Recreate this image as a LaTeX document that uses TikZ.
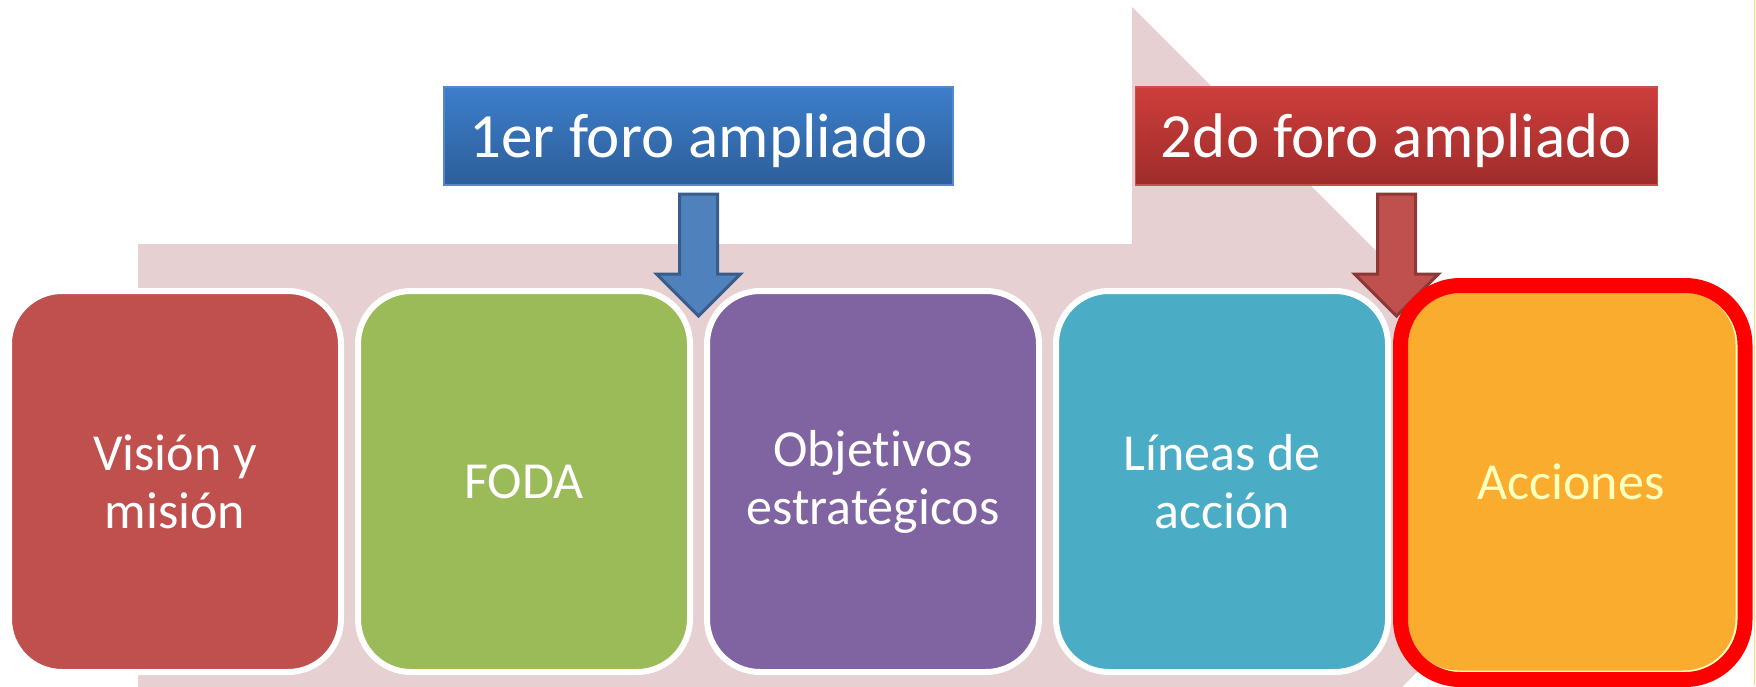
\documentclass[tikz,border=0pt]{standalone}
\usepackage{fontspec}
\setmainfont{Carlito}[Ligatures={NoCommon,NoContextual}]
\usepackage{tikz}
\usetikzlibrary{positioning, calc}

\definecolor{bgpink}{RGB}{230,208,209}
\definecolor{visred}{RGB}{192,80,77}
\definecolor{fodagreen}{RGB}{155,187,89}
\definecolor{objpurple}{RGB}{128,100,162}
\definecolor{lineteal}{RGB}{75,172,198}
\definecolor{accorange}{RGB}{249,172,46}
\definecolor{acctext}{RGB}{255,255,190}
\definecolor{blueup}{RGB}{61,126,202}
\definecolor{bluedown}{RGB}{45,94,154}
\definecolor{blueedge}{RGB}{84,136,204}
\definecolor{redup}{RGB}{205,62,59}
\definecolor{reddown}{RGB}{158,44,43}
\definecolor{rededge}{RGB}{200,80,78}
\definecolor{arrowblue}{RGB}{79,129,189}
\definecolor{arrowblueedge}{RGB}{56,93,138}
\definecolor{arrowred}{RGB}{192,80,77}
\definecolor{arrowrededge}{RGB}{140,56,54}
\definecolor{pageline}{RGB}{250,222,110}

\begin{document}
\begin{tikzpicture}[x=1pt, y=-1pt,
  stagebox/.style={rectangle, rounded corners=53pt, draw=white, line width=6pt, outer sep=0pt,
    minimum width=332pt, minimum height=381pt, align=center, text=white,
    font=\fontsize{52}{58}\selectfont},
  forolabel/.style={rectangle, line width=1.5pt, outer sep=0pt, minimum height=98pt,
    inner xsep=25.5pt, text=white, text depth=0pt, font=\fontsize{63}{75}\selectfont},
  blockdown/.style={line width=3pt, line join=miter},
  ring/.style={draw=red, line width=15pt, rounded corners=60pt}]

  % Canvas
  \useasboundingbox (0,0) rectangle (1756,686);
  \clip (0,0) rectangle (1756,686);

  % Background arrow
  \fill[bgpink] (138,244) -- (1132,244) -- (1132,7) -- (1607,482) -- (1132,957) -- (1132,720) -- (138,720) -- cycle;

  % Stages
  \node[stagebox, fill=visred] (vision) at (175,481.5) {Visión y\\misión};
  \node[stagebox, fill=fodagreen, right=17pt of vision] (foda) {FODA};
  \node[stagebox, fill=objpurple, right=17pt of foda] (objetivos) {Objetivos\\estratégicos};
  \node[stagebox, fill=lineteal, right=17pt of objetivos] (lineas) {Líneas de\\acción};
  \node[stagebox, fill=accorange, draw=acctext, line width=3pt, text=acctext, right=17pt of lineas] (acciones) {Acciones};

  % Arrow tips sit in the gaps between stages
  \coordinate (tip1) at ($(foda.north east)!0.5!(objetivos.north west)+(0,25)$);
  \coordinate (tip2) at ($(lineas.north east)!0.5!(acciones.north west)+(0,25)$);

  % Forums
  \node[forolabel, top color=blueup, bottom color=bluedown, draw=blueedge, above=131pt of tip1] (foro1) {1er foro ampliado};
  \node[forolabel, top color=redup, bottom color=reddown, draw=rededge, above=131pt of tip2] (foro2) {2do foro ampliado};

  \draw[blockdown, fill=arrowblue, draw=arrowblueedge] (tip1) -- ++(-42,-42) -- ++(23,0) -- ++(0,-80) -- ++(38,0) -- ++(0,80) -- ++(23,0) -- cycle;
  \draw[blockdown, fill=arrowred, draw=arrowrededge] (tip2) -- ++(-42,-42) -- ++(23,0) -- ++(0,-80) -- ++(38,0) -- ++(0,80) -- ++(23,0) -- cycle;

  % Highlight on the last stage
  \draw[ring] ($(acciones.north west)+(-4.5,-5.5)$) rectangle ($(acciones.south east)+(8,7.5)$);

  % Page edge
  \draw[pageline, line width=1.5pt] (1754.5,0) -- (1754.5,686);
\end{tikzpicture}
\end{document}
